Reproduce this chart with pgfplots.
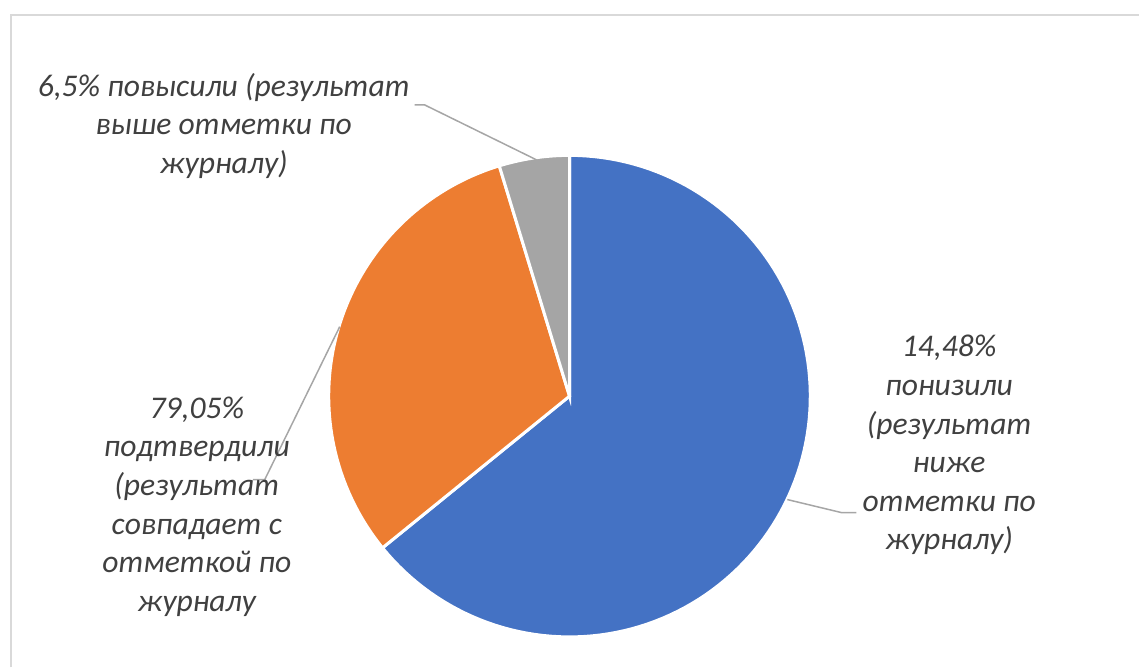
\documentclass[border=0pt]{standalone}
\usepackage{pgfplots}
\pgfplotsset{compat=1.18}
\usepackage{fontspec}
\setmainfont{Carlito}
\definecolor{pieblue}{HTML}{4472C4}
\definecolor{pieorange}{HTML}{ED7D31}
\definecolor{piegray}{HTML}{A5A5A5}
\definecolor{labeltext}{HTML}{404040}
\definecolor{leader}{HTML}{A6A6A6}
\definecolor{frame}{HTML}{D9D9D9}
% slice shares (percent), clockwise from 12 o'clock
\def\vblue{64.15}
\def\vorange{31.14}
\def\vgray{4.71}
\begin{document}
\begin{tikzpicture}
\begin{axis}[hide axis, scale only axis, width=570pt, height=334pt,
  xmin=0, xmax=1140, ymin=0, ymax=668, clip=false]
\pgfmathsetmacro{\aA}{90}
\pgfmathsetmacro{\aB}{90-3.6*\vblue}
\pgfmathsetmacro{\aC}{\aB-3.6*\vorange}
\pgfmathsetmacro{\aD}{\aC-3.6*\vgray}
\path (axis cs:0,0) rectangle (axis cs:1140,668);
% frame
\draw[frame, line width=1pt] (axis cs:11,0) -- (axis cs:11,653) -- (axis cs:1140,653);
% slices
\addplot[fill=pieblue, draw=white, line width=1.5pt, domain=\aB:\aA, samples=120, variable=\t]
  ({570+241*cos(\t)},{271.5+241*sin(\t)}) -- (axis cs:570,271.5) -- cycle;
\addplot[fill=pieorange, draw=white, line width=1.5pt, domain=\aC:\aB, samples=80, variable=\t]
  ({570+241*cos(\t)},{271.5+241*sin(\t)}) -- (axis cs:570,271.5) -- cycle;
\addplot[fill=piegray, draw=white, line width=1.5pt, domain=\aD:\aC, samples=20, variable=\t]
  ({570+241*cos(\t)},{271.5+241*sin(\t)}) -- (axis cs:570,271.5) -- cycle;
% leader lines
\draw[leader, line width=0.75pt] (axis cs:415,563) -- (axis cs:425,563) -- (axis cs:537,508);
\draw[leader, line width=0.75pt] (axis cs:253,188) -- (axis cs:265,188) -- (axis cs:340,341);
\draw[leader, line width=0.75pt] (axis cs:788,168) -- (axis cs:842,155) -- (axis cs:857,155);
% labels
\tikzset{lbl/.style={align=center, text=labeltext, inner sep=0pt,
  font=\fontsize{15.8}{19.3}\selectfont\itshape}}
\node[lbl] at (axis cs:224,542) {6,5\% повысили (результат\\выше отметки по\\журналу)};
\node[lbl] at (axis cs:197,161) {79,05\%\\подтвердили\\(результат\\совпадает с\\отметкой по\\журналу};
\node[lbl] at (axis cs:950,222.5) {14,48\%\\понизили\\(результат\\ниже\\отметки по\\журналу)};
\end{axis}
\end{tikzpicture}
\end{document}
